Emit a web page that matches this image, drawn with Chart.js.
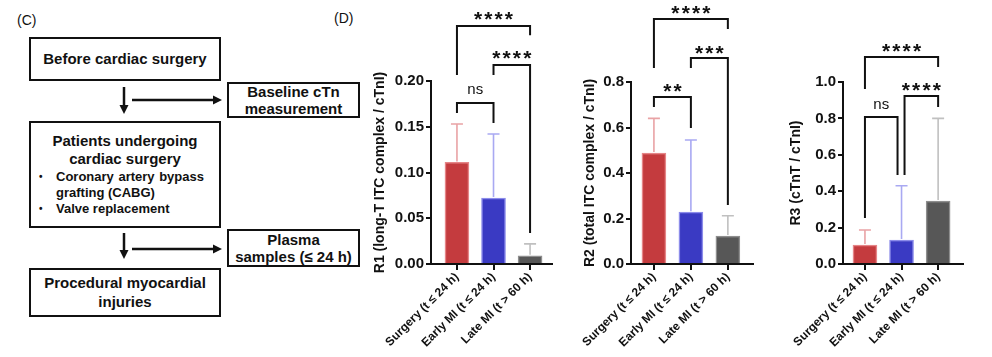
<!DOCTYPE html>
<html><head><meta charset="utf-8">
<script src="https://cdn.jsdelivr.net/npm/chart.js@4"></script>
<style>
body{margin:0;width:992px;height:357px;background:#fff;position:relative;overflow:hidden;font-family:"Liberation Sans",Arial,sans-serif;color:#111;}
.box{position:absolute;box-sizing:border-box;border:2px solid #111;}
.t{position:absolute;height:18px;line-height:18px;white-space:nowrap;font-weight:bold;font-size:15px;text-align:center;}
.b{position:absolute;height:16px;line-height:16px;white-space:nowrap;font-weight:bold;font-size:13px;}
.lab{position:absolute;font-size:14px;line-height:16px;}
canvas{position:absolute;top:0;}
</style></head>
<body>
<div class="lab" style="left:17px;top:12px;">(C)</div>
<div class="lab" style="left:334px;top:10px;">(D)</div>

<div class="box" style="left:29px;top:37px;width:192px;height:44px;"></div>
<div class="t" style="left:29px;width:192px;top:50px;">Before cardiac surgery</div>

<div class="box" style="left:227px;top:82px;width:133px;height:36px;"></div>
<div class="t" style="left:227px;width:133px;top:83px;">Baseline cTn</div>
<div class="t" style="left:227px;width:133px;top:100px;">measurement</div>

<div class="box" style="left:29px;top:121px;width:192px;height:107px;"></div>
<div class="t" style="left:29px;width:192px;top:132px;">Patients undergoing</div>
<div class="t" style="left:29px;width:192px;top:150px;">cardiac surgery</div>
<div class="b" style="left:39px;top:169px;font-size:10px;">•</div>
<div class="b" style="left:56px;top:169px;word-spacing:1px;">Coronary artery bypass</div>
<div class="b" style="left:56px;top:185px;">grafting (CABG)</div>
<div class="b" style="left:39px;top:201px;font-size:10px;">•</div>
<div class="b" style="left:56px;top:201px;">Valve replacement</div>

<div class="box" style="left:227px;top:229px;width:133px;height:38px;"></div>
<div class="t" style="left:227px;width:133px;top:231px;">Plasma</div>
<div class="t" style="left:227px;width:133px;top:248px;">samples (≤ 24 h)</div>

<div class="box" style="left:29px;top:268px;width:192px;height:49px;"></div>
<div class="t" style="left:29px;width:192px;top:274px;">Procedural myocardial</div>
<div class="t" style="left:29px;width:192px;top:293px;">injuries</div>

<svg width="230" height="357" style="position:absolute;left:0;top:0;">
  <g stroke="#111" stroke-width="2.5" fill="none">
    <line x1="124" y1="87" x2="124" y2="106"/>
    <line x1="132" y1="100" x2="214" y2="100"/>
    <line x1="124" y1="233" x2="124" y2="251"/>
    <line x1="132" y1="249" x2="214" y2="249"/>
  </g>
  <g fill="#111">
    <polygon points="119.5,105 128.5,105 124,114"/>
    <polygon points="213,95.5 213,104.5 222,100"/>
    <polygon points="119.5,250 128.5,250 124,259"/>
    <polygon points="213,244.5 213,253.5 222,249"/>
  </g>
</svg>

<canvas id="c1" width="220" height="357" style="left:336px;width:220px;height:357px;"></canvas>
<canvas id="c2" width="200" height="357" style="left:560px;width:200px;height:357px;"></canvas>
<canvas id="c3" width="217" height="357" style="left:775px;width:217px;height:357px;"></canvas>

<script>
// ---- data ----
const categories = ["Surgery (t \u2264 24 h)", "Early MI (t \u2264 24 h)", "Late MI (t > 60 h)"];
const r1Means = [0.111, 0.072, 0.009];
const r1Upper = [0.153, 0.142, 0.022];
const r2Means = [0.488, 0.228, 0.123];
const r2Upper = [0.640, 0.545, 0.212];
const r3Means = [0.104, 0.132, 0.346];
const r3Upper = [0.187, 0.430, 0.800];
const r1Sig = ["ns", "****", "****"];
const r2Sig = ["**", "***", "****"];
const r3Sig = ["ns", "****", "****"];
// bracket pairs (group indices) and heights in data units: [i1, i2, top, leftEnd, rightEnd, labelY]
const r1Brackets = [[0,1,0.176,0.165,0.154,0.190],[1,2,0.2175,0.2066,0.0339,0.2306],[0,2,0.260,0.2066,0.250,0.273]];
const r2Brackets = [[0,1,0.734,0.690,0.598,0.782],[1,2,0.905,0.862,0.259,0.949],[0,2,1.077,0.862,1.033,1.125]];
const r3Brackets = [[0,1,0.808,0.253,0.489,0.874],[1,2,0.923,0.489,0.863,0.984],[0,2,1.137,0.962,1.082,1.198]];

// ---- styles ----
const FONT = "Liberation Sans";
const fills = ['#C43B3E', '#3A3AC3', '#575757'];
const borders = ['#E58587', '#8C8CEA', '#8E8E8E'];
const errCols = ['#E9A3A5', '#A9A9F2', '#C0C0C0'];
const INK = '#111';

const errPlugin = {
  id: 'err',
  afterDatasetsDraw(chart) {
    const meta = chart.getDatasetMeta(0);
    const ys = chart.scales.y;
    const up = chart.config.options.errUpper;
    const ctx = chart.ctx;
    ctx.save();
    meta.data.forEach((el, i) => {
      const yt = ys.getPixelForValue(up[i]);
      ctx.strokeStyle = errCols[i];
      ctx.lineWidth = 1.6;
      ctx.beginPath();
      ctx.moveTo(el.x, el.y - 1);
      ctx.lineTo(el.x, yt);
      ctx.moveTo(el.x - 6, yt);
      ctx.lineTo(el.x + 6, yt);
      ctx.stroke();
    });
    ctx.restore();
  }
};

const bracketPlugin = {
  id: 'brk',
  afterDraw(chart) {
    const o = chart.config.options;
    const xs = chart.scales.x, ys = chart.scales.y, ctx = chart.ctx;
    ctx.save();
    o.brackets.forEach((b, k) => {
      const off = o.bracketOffsets[k];
      const x1 = xs.getPixelForValue(b[0]) + off[0];
      const x2 = xs.getPixelForValue(b[1]) + off[1];
      const yT = ys.getPixelForValue(b[2]);
      const yL = ys.getPixelForValue(b[3]);
      const yR = ys.getPixelForValue(b[4]);
      ctx.strokeStyle = INK; ctx.lineWidth = 2; ctx.lineJoin = 'miter';
      ctx.beginPath();
      ctx.moveTo(x1, yL); ctx.lineTo(x1, yT); ctx.lineTo(x2, yT); ctx.lineTo(x2, yR);
      ctx.stroke();
      const lab = o.sigLabels[k];
      const cy = ys.getPixelForValue(b[5]);
      const cx = (x1 + x2) / 2;
      ctx.fillStyle = INK;
      ctx.textAlign = 'center';
      ctx.textBaseline = 'alphabetic';
      if (lab === 'ns') {
        ctx.font = '15px "' + FONT + '"';
        ctx.fillText(lab, cx, cy + 15 * 0.27);
      } else {
        const n = lab.length, sp = 10.3, sz = 21;
        ctx.font = 'bold ' + sz + 'px "' + FONT + '"';
        for (let j = 0; j < n; j++) {
          ctx.fillText('*', cx + (j - (n - 1) / 2) * sp, cy + sz * 0.56);
        }
      }
    });
    ctx.restore();
  }
};

function makeChart(id, means, upper, yMax, yStep, dec, title, brackets, sig, g) {
  return new Chart(document.getElementById(id), {
    type: 'bar',
    data: {
      datasets: [{
        data: means.map((v, i) => ({ x: i, y: v })),
        backgroundColor: fills,
        borderColor: borders,
        borderWidth: 1.5,
        barThickness: 24
      }]
    },
    options: {
      animation: false, responsive: false, devicePixelRatio: 1,
      errUpper: upper, brackets: brackets, sigLabels: sig, bracketOffsets: g.boff,
      layout: { padding: { top: g.top, right: g.right, left: 0, bottom: 0 } },
      plugins: { legend: { display: false }, tooltip: { enabled: false } },
      scales: {
        x: {
          type: 'linear', min: g.xmin, max: g.xmax, offset: false, bounds: 'data',
          afterBuildTicks: s => { s.ticks = [0, 1, 2].map(v => ({ value: v })); },
          afterFit: s => { s.height = 357 - g.bottom; s.paddingLeft = 0; s.paddingRight = 0; },
          ticks: {
            callback: v => categories[v], minRotation: 45, maxRotation: 45, autoSkip: false,
            font: { family: FONT, size: 12, weight: 'bold' }, color: INK, padding: 0
          },
          grid: { display: true, offset: false, drawOnChartArea: false, drawTicks: true, tickLength: 6, color: INK, lineWidth: 2 },
          border: { display: true, color: INK, width: 2 }
        },
        y: {
          min: 0, max: yMax,
          afterFit: s => { s.width = g.yw; s.paddingTop = 0; s.paddingBottom = 0; },
          afterBuildTicks: s => {
            const t = []; for (let v = 0; v <= yMax + 1e-9; v += yStep) t.push({ value: +v.toFixed(4) }); s.ticks = t;
          },
          ticks: {
            callback: v => Number(v).toFixed(dec),
            font: { family: FONT, size: 15, weight: 'bold' }, color: INK, padding: 2
          },
          grid: { display: true, drawOnChartArea: false, drawTicks: true, tickLength: 5, color: INK, lineWidth: 2 },
          border: { display: true, color: INK, width: 2 },
          title: {
            display: true, text: title, color: INK,
            font: { family: FONT, size: 14, weight: 'bold' },
            padding: { top: g.tpad, bottom: 0 }
          }
        }
      }
    },
    plugins: [errPlugin, bracketPlugin]
  });
}

makeChart('c1', r1Means, r1Upper, 0.20, 0.05, 2, 'R1 (long-T ITC complex / cTnI)', r1Brackets, r1Sig,
  { top: 81, bottom: 264, right: 4, yw: 95, xmin: -0.71, xmax: 2.60, tpad: 36, boff: [[0,0],[0,0],[0,0]] });
makeChart('c2', r2Means, r2Upper, 0.8, 0.2, 1, 'R2 (total ITC complex / cTnI)', r2Brackets, r2Sig,
  { top: 82, bottom: 264, right: 7, yw: 71, xmin: -0.62, xmax: 2.68, tpad: 22, boff: [[0,0],[0,0],[0,0]] });
makeChart('c3', r3Means, r3Upper, 1.0, 0.2, 1, 'R3 (cTnT / cTnI)', r3Brackets, r3Sig,
  { top: 82, bottom: 264, right: 29, yw: 68, xmin: -0.60, xmax: 2.68, tpad: 13, boff: [[0,-4],[3,0],[0,0]] });
</script>
</body></html>
